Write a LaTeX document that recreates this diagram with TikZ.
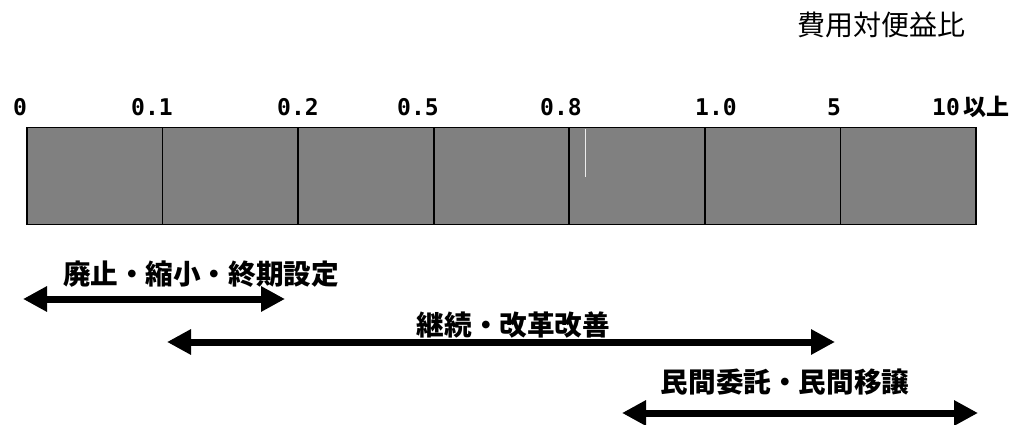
\documentclass[tikz,border=0pt]{standalone}
\usepackage{fontspec}
\usepackage{tikz}
\usetikzlibrary{arrows.meta,positioning}
\newfontfamily\jpfont{Noto Sans CJK JP}
\newfontfamily\numfont{DejaVu Sans Mono}
\definecolor{cellgray}{HTML}{808080}

\tikzset{
  cell/.style={draw, fill=cellgray, line width=1.8pt, minimum width=135.57pt,
    minimum height=97pt, inner sep=0pt, outer sep=0pt},
  tick/.style={font=\numfont\bfseries\fontsize{23}{23}\selectfont, inner sep=0pt},
  rangearrow/.style={line width=7pt,
    {Triangle[length=24pt,width=24pt]}-{Triangle[length=24pt,width=24pt]}},
  rangelabel/.style={font=\jpfont\bfseries\fontsize{27.6}{27.6}\selectfont, inner sep=0pt}
}

\begin{document}
\begin{tikzpicture}[x=1pt,y=-1pt]
    \useasboundingbox (0,0) rectangle (1026,425);

    % title
    \node[font=\jpfont\fontsize{28}{28}\selectfont, inner sep=0pt] (title) at (881.5,25) {費用対便益比};

    % scale cells
    \node[cell] (c1) at (94.8,176) {};
    \node[cell, right=0pt of c1] (c2) {};
    \node[cell, right=0pt of c2] (c3) {};
    \node[cell, right=0pt of c3] (c4) {};
    \node[cell, right=0pt of c4] (c5) {};
    \node[cell, right=0pt of c5] (c6) {};
    \node[cell, right=0pt of c6] (c7) {};
    \draw[white!85!gray, line width=0.6pt] (585,129) -- (585,177);

    % tick labels
    \node[tick] (t0) at (20,107) {0};
    \node[tick] (t1) at (152,107) {0.1};
    \node[tick] (t2) at (298,107) {0.2};
    \node[tick] (t3) at (418,107) {0.5};
    \node[tick] (t4) at (561,107) {0.8};
    \node[tick] (t5) at (716,107) {1.0};
    \node[tick] (t6) at (834,107) {5};
    \node[tick] (t7) at (971,107) {10\,{\jpfont 以上}};

    % ranges
    \coordinate (r1w) at (23,299);
    \coordinate (r1e) at (285,299);
    \coordinate (r2w) at (167,342);
    \coordinate (r2e) at (835,342);
    \coordinate (r3w) at (622,413);
    \coordinate (r3e) at (978,413);
    \draw[rangearrow] (r1w) -- (r1e);
    \draw[rangearrow] (r2w) -- (r2e);
    \draw[rangearrow] (r3w) -- (r3e);
    \node[rangelabel] (l1) at (201,274) {廃止・縮小・終期設定};
    \node[rangelabel] (l2) at (513.5,325) {継続・改革改善};
    \node[rangelabel] (l3) at (785,382) {民間委託・民間移譲};
\end{tikzpicture}
\end{document}
